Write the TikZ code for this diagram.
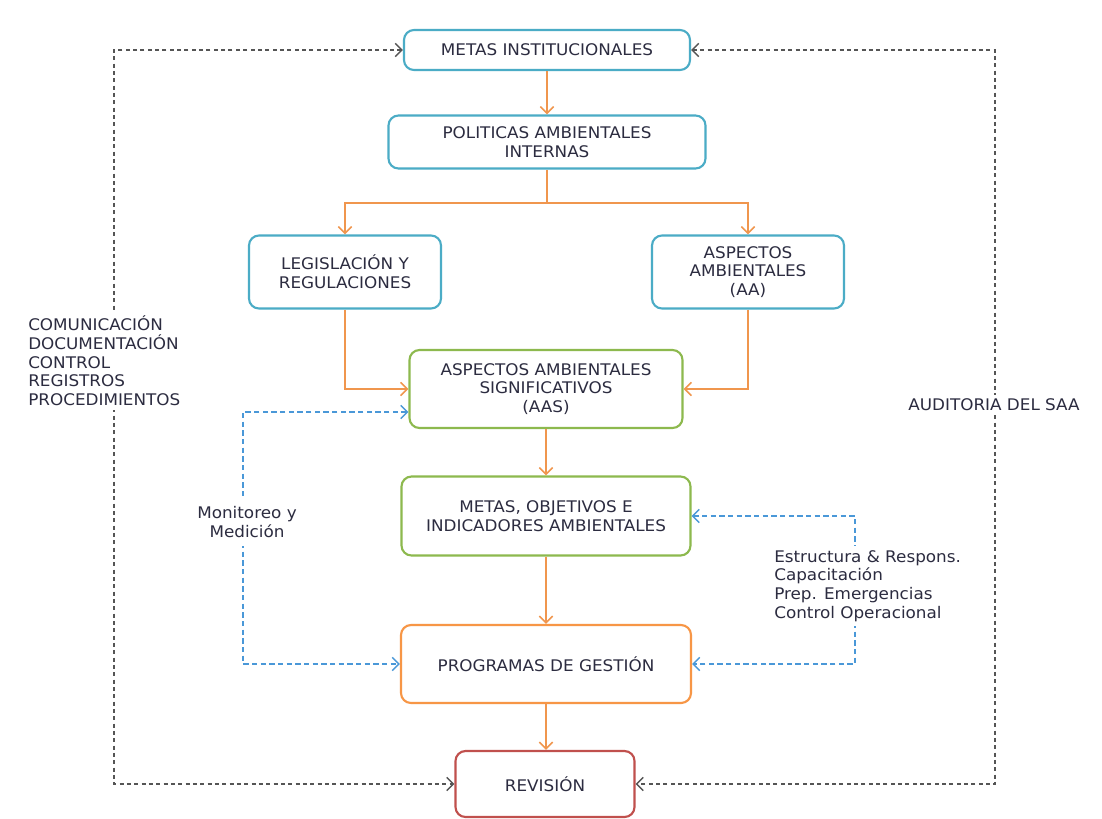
\documentclass[tikz,border=0pt]{standalone}
\usepackage{fontspec}
\setmainfont{DejaVu Sans}[FakeStretch=1.05]
\usetikzlibrary{arrows.meta,calc}
\definecolor{txt}{HTML}{2C2C40}
\definecolor{bxblue}{HTML}{4BACC6}
\definecolor{bxgreen}{HTML}{8DB94E}
\definecolor{bxorange}{HTML}{F79646}
\definecolor{bxred}{HTML}{C0504D}
\definecolor{flow}{HTML}{F0964E}
\definecolor{support}{HTML}{4A98D8}
\definecolor{loop}{HTML}{555555}
\begin{document}
\begin{tikzpicture}[x=0.75pt,y=-0.75pt,
  font=\fontsize{12}{14}\selectfont, text=txt,
  box/.style={draw=#1, line width=1.6pt, rounded corners=7.5pt, fill=white,
    align=center, inner sep=0pt},
  flowarrow/.style={draw=flow, line width=1.2pt,
    -{Straight Barb[length=5pt,width=10pt]}},
  supportline/.style={draw=support, line width=1.1pt, dash pattern=on 4pt off 2.5pt,
    {Straight Barb[length=5pt,width=10pt]}-{Straight Barb[length=5pt,width=10pt]}},
  loopline/.style={draw=loop, line width=1.1pt, dash pattern=on 3pt off 2.5pt,
    {Straight Barb[length=5pt,width=10pt]}-{Straight Barb[length=5pt,width=10pt]}},
  lbl/.style={fill=white, inner sep=3pt}]
\useasboundingbox[fill=white] (0,0) rectangle (1102,818);

% main chain of boxes
\node[box=bxblue, minimum width=214.5pt, minimum height=30pt] (mi) at (547,50) {METAS INSTITUCIONALES};
\node[box=bxblue, minimum width=237.75pt, minimum height=39.75pt] (pa) at (547,142) {POLITICAS AMBIENTALES\\INTERNAS};
\node[box=bxblue, minimum width=144pt, minimum height=54.75pt] (lg) at (345,272) {LEGISLACIÓN Y\\REGULACIONES};
\node[box=bxblue, minimum width=144pt, minimum height=54.75pt] (aa) at (748,272) {ASPECTOS\\AMBIENTALES\\(AA)};
\node[box=bxgreen, minimum width=204.75pt, minimum height=58.5pt] (aas) at (546,389) {ASPECTOS AMBIENTALES\\SIGNIFICATIVOS\\(AAS)};
\node[box=bxgreen, minimum width=216.75pt, minimum height=59.25pt] (mo) at (546,516) {METAS, OBJETIVOS E\\INDICADORES AMBIENTALES};
\node[box=bxorange, minimum width=217.5pt, minimum height=58.5pt] (pg) at (546,664) {PROGRAMAS DE GESTIÓN};
\node[box=bxred, minimum width=134.25pt, minimum height=49.5pt] (rv) at (545,784) {REVISIÓN};

% main flow
\coordinate (br) at (547,203);
\draw[flowarrow] (mi.south) -- (mi.south |- pa.north);
\draw[flowarrow] (pa.south) -- (br) -| (lg.north);
\draw[flowarrow] (br) -| (aa.north);
\draw[flowarrow] (lg.south) |- (aas.west);
\draw[flowarrow] (aa.south) |- (aas.east);
\draw[flowarrow] (aas.south) -- (aas.south |- mo.north);
\draw[flowarrow] (mo.south) -- (mo.south |- pg.north);
\draw[flowarrow] (pg.south) -- (pg.south |- rv.north);

% monitoring and operational support
\coordinate (ml) at (243,412);
\coordinate (mr) at (855,590);
\draw[supportline] (aas.west |- ml) -- (ml) |- (pg.west);
\draw[supportline] (mo.east) -| (mr) |- (pg.east);
\node[lbl, align=center, inner sep=6pt] (mon) at (247,522) {Monitoreo y\\Medición};
\node[lbl, align=left, anchor=west] (ops) at (770,586) {Estructura \& Respons.\\Capacitación\\Prep. Emergencias\\Control Operacional};

% outer loops
\coordinate (gl) at (114,400);
\coordinate (gr) at (995,400);
\draw[loopline] (mi.west) -| (gl) |- (rv.west);
\draw[loopline] (mi.east) -| (gr) |- (rv.east);
\node[lbl, align=left, anchor=west] (doc) at (24,361) {COMUNICACIÓN\\DOCUMENTACIÓN\\CONTROL\\REGISTROS\\PROCEDIMIENTOS};
\node[lbl] (aud) at (994,405) {AUDITORIA DEL SAA};
\end{tikzpicture}
\end{document}
